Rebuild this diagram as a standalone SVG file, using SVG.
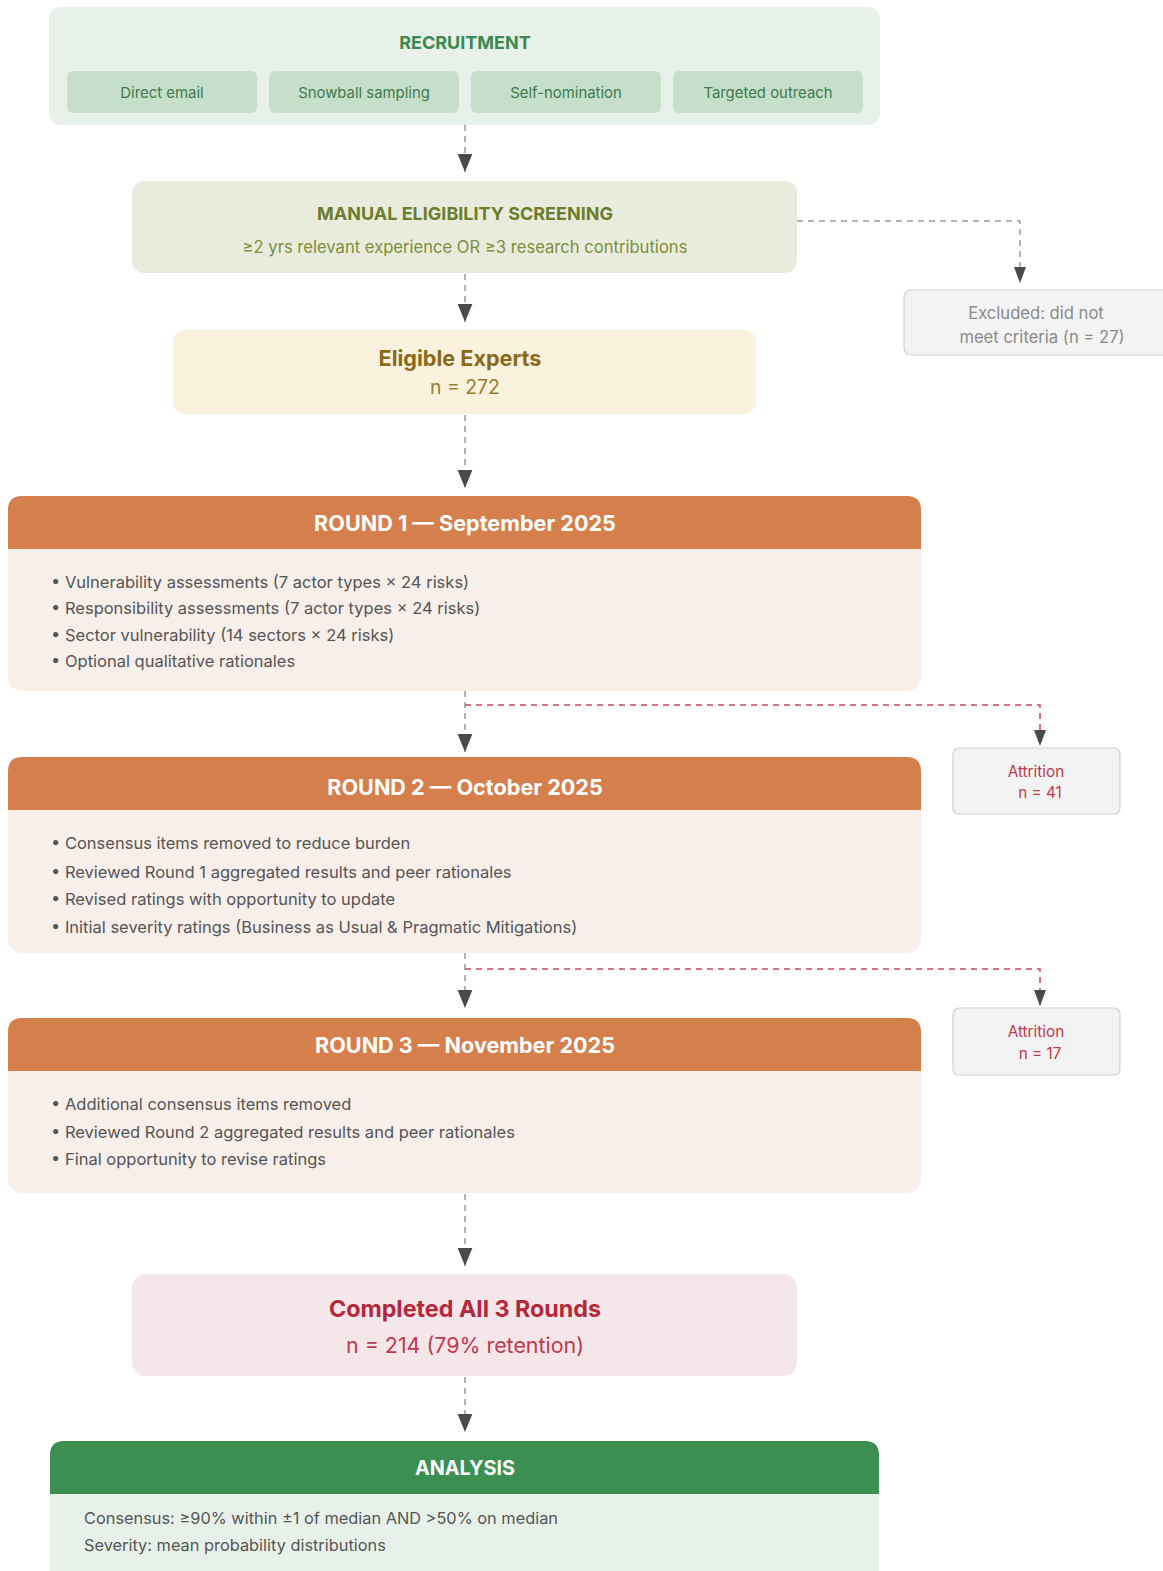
<svg xmlns="http://www.w3.org/2000/svg" width="1163" height="1571" viewBox="0 0 1163 1571">
<style>
text{font-family:Inter,"Noto Sans","Liberation Sans",sans-serif;text-anchor:middle}
.sub{font-size:14.9px;fill:#3f7a4b}
.bul{font-size:16.5px;fill:#555;text-anchor:start}
.hdr{font-size:21.6px;font-weight:700;fill:#fff}
.c{fill:none;stroke:#999;stroke-width:1.5;stroke-dasharray:6,5}
.r{fill:none;stroke:#c44a5c;stroke-width:1.5;stroke-dasharray:6,5}
.side{fill:#f3f3f3;stroke:#d0d0d0;stroke-width:1.2}
.att{font-size:15.3px;fill:#c0394e}
</style>
<defs>
<marker id="arr" markerUnits="userSpaceOnUse" markerWidth="18" markerHeight="22" refX="22" refY="9" orient="auto" viewBox="0 0 22 18"><path d="M0,0 L22,9 L0,18 Z" fill="#4a4a4a"/></marker>
<marker id="sm" markerUnits="userSpaceOnUse" markerWidth="16" markerHeight="14" refX="16" refY="6" orient="auto" viewBox="0 0 16 12"><path d="M0,0 L16,6 L0,12 Z" fill="#4a4a4a"/></marker>
</defs>

<g id="connectors">
<path class="c" d="M465,125 V172" marker-end="url(#arr)"/>
<path class="c" d="M797,221 H1020 V283" marker-end="url(#sm)"/>
<path class="c" d="M465,274 V322" marker-end="url(#arr)"/>
<path class="c" d="M465,415 V488" marker-end="url(#arr)"/>
<path class="c" d="M465,691 V752" marker-end="url(#arr)"/>
<path class="r" d="M465,705 H1040 V746" marker-end="url(#sm)"/>
<path class="c" d="M465,953 V1008" marker-end="url(#arr)"/>
<path class="r" d="M465,969 H1040 V1006" marker-end="url(#sm)"/>
<path class="c" d="M465,1194 V1266" marker-end="url(#arr)"/>
<path class="c" d="M465,1377 V1432" marker-end="url(#arr)"/>
</g>

<g id="recruitment">
<rect x="49" y="7" width="831" height="118" rx="12" fill="#e7f1e9"/>
<text x="465" y="49" font-size="18" font-weight="700" fill="#3a8a4f">RECRUITMENT</text>
<rect x="67" y="71" width="190" height="42" rx="6" fill="#c6dfcb"/>
<text class="sub" x="162" y="98">Direct email</text>
<rect x="269" y="71" width="190" height="42" rx="6" fill="#c6dfcb"/>
<text class="sub" x="364" y="98">Snowball sampling</text>
<rect x="471" y="71" width="190" height="42" rx="6" fill="#c6dfcb"/>
<text class="sub" x="566" y="98">Self-nomination</text>
<rect x="673" y="71" width="190" height="42" rx="6" fill="#c6dfcb"/>
<text class="sub" x="768" y="98">Targeted outreach</text>
</g>

<g id="screening">
<rect x="132" y="181" width="665" height="92" rx="12" fill="#e9ecdc"/>
<text x="465" y="220" font-size="18" font-weight="700" fill="#6b7d2c">MANUAL ELIGIBILITY SCREENING</text>
<text x="465" y="253" font-size="16.6" fill="#7d8e3e">≥2 yrs relevant experience OR ≥3 research contributions</text>
</g>

<g id="excluded">
<rect class="side" x="904" y="290" width="270" height="65" rx="7"/>
<text x="1036" y="319" font-size="16.6" fill="#8a8a8a">Excluded: did not</text>
<text x="1042" y="343" font-size="16.6" fill="#8a8a8a">meet criteria (n = 27)</text>
</g>

<g id="eligible">
<rect x="173" y="330" width="583" height="84" rx="12" fill="#fbf2de"/>
<text x="460" y="366" font-size="21.6" font-weight="700" fill="#8a6a17">Eligible Experts</text>
<text x="465" y="394" font-size="19.4" fill="#9a7b2a">n = 272</text>
</g>

<g id="round1">
<rect x="8" y="496" width="913" height="195" rx="14" fill="#f8eeea"/>
<path d="M8,549 V510 Q8,496 22,496 H907 Q921,496 921,510 V549 Z" fill="#d57f4d"/>
<text class="hdr" x="465" y="531">ROUND 1 — September 2025</text>
<text class="bul" x="51" y="588">• Vulnerability assessments (7 actor types × 24 risks)</text>
<text class="bul" x="51" y="614">• Responsibility assessments (7 actor types × 24 risks)</text>
<text class="bul" x="51" y="641">• Sector vulnerability (14 sectors × 24 risks)</text>
<text class="bul" x="51" y="667">• Optional qualitative rationales</text>
</g>

<g id="attrition1">
<rect class="side" x="953" y="748" width="167" height="66" rx="6"/>
<text class="att" x="1036" y="777">Attrition</text>
<text class="att" x="1040" y="798">n = 41</text>
</g>

<g id="round2">
<rect x="8" y="757" width="913" height="196" rx="14" fill="#f8eeea"/>
<path d="M8,810 V771 Q8,757 22,757 H907 Q921,757 921,771 V810 Z" fill="#d57f4d"/>
<text class="hdr" x="465" y="795">ROUND 2 — October 2025</text>
<text class="bul" x="51" y="849">• Consensus items removed to reduce burden</text>
<text class="bul" x="51" y="878">• Reviewed Round 1 aggregated results and peer rationales</text>
<text class="bul" x="51" y="905">• Revised ratings with opportunity to update</text>
<text class="bul" x="51" y="933">• Initial severity ratings (Business as Usual &amp; Pragmatic Mitigations)</text>
</g>

<g id="attrition2">
<rect class="side" x="953" y="1008" width="167" height="67" rx="6"/>
<text class="att" x="1036" y="1037">Attrition</text>
<text class="att" x="1040" y="1059">n = 17</text>
</g>

<g id="round3">
<rect x="8" y="1018" width="913" height="175" rx="14" fill="#f8eeea"/>
<path d="M8,1071 V1032 Q8,1018 22,1018 H907 Q921,1018 921,1032 V1071 Z" fill="#d57f4d"/>
<text class="hdr" x="465" y="1053">ROUND 3 — November 2025</text>
<text class="bul" x="51" y="1110">• Additional consensus items removed</text>
<text class="bul" x="51" y="1138">• Reviewed Round 2 aggregated results and peer rationales</text>
<text class="bul" x="51" y="1165">• Final opportunity to revise ratings</text>
</g>

<g id="completed">
<rect x="132" y="1274" width="665" height="102" rx="14" fill="#f5e6e9"/>
<text x="465" y="1317" font-size="23.3" font-weight="700" fill="#b5283c">Completed All 3 Rounds</text>
<text x="465" y="1353" font-size="21.4" fill="#c0394e">n = 214 (79% retention)</text>
</g>

<g id="analysis">
<rect x="50" y="1441" width="829" height="150" rx="14" fill="#e7f1e9"/>
<path d="M50,1494 V1455 Q50,1441 64,1441 H865 Q879,1441 879,1455 V1494 Z" fill="#3b8f51"/>
<text x="465" y="1475" font-size="19.8" font-weight="700" fill="#fff">ANALYSIS</text>
<text class="bul" x="84" y="1524" style="font-size:16.35px">Consensus: ≥90% within ±1 of median AND &gt;50% on median</text>
<text class="bul" x="84" y="1551" style="font-size:16.35px">Severity: mean probability distributions</text>
</g>
</svg>
